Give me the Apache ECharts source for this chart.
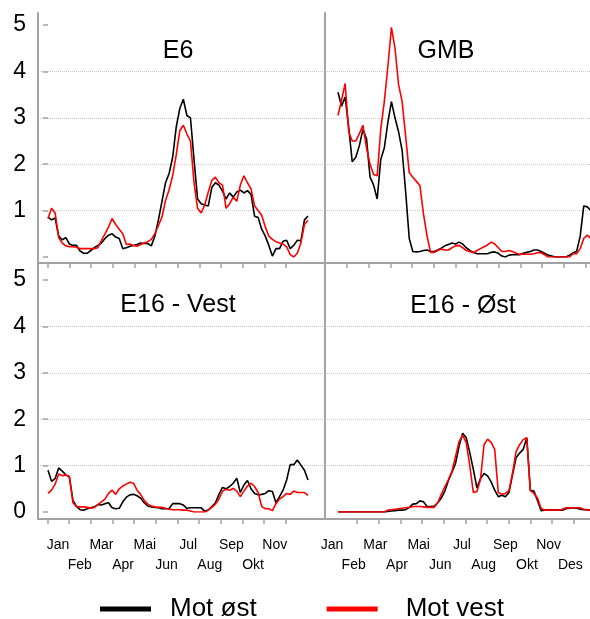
<!DOCTYPE html>
<html>
<head>
<meta charset="utf-8">
<script src="https://cdn.jsdelivr.net/npm/echarts@6/dist/echarts.min.js"></script>
<style>
  html, body { margin: 0; padding: 0; background: #fff; }
  #chart { width: 590px; height: 619px; }
</style>
</head>
<body>
<div id="chart"></div>
<script>
// Month names used on the time axes (Norwegian)
const months = ['Jan', 'Feb', 'Mar', 'Apr', 'Mai', 'Jun', 'Jul', 'Aug', 'Sep', 'Okt', 'Nov', 'Des'];
const panelTitles = ['E6', 'GMB', 'E16 - Vest', 'E16 - Øst'];
const seriesNames = ['Mot øst', 'Mot vest'];
const yTickLabels = [0, 1, 2, 3, 4, 5];

// Values are sampled every 5 days, starting 1 January (day 0) up to day 365
const sampleStepDays = 5;

const e6East = [
  0.86, 0.80, 0.84, 0.45, 0.37, 0.42, 0.28, 0.25, 0.25, 0.13,
  0.08, 0.08, 0.14, 0.20, 0.25, 0.30, 0.40, 0.47, 0.50, 0.43,
  0.40, 0.18, 0.20, 0.23, 0.25, 0.27, 0.30, 0.29, 0.29, 0.24,
  0.45, 0.80, 1.20, 1.60, 1.80, 2.15, 2.80, 3.20, 3.40, 3.05,
  3.00, 2.10, 1.25, 1.15, 1.12, 1.10, 1.50, 1.60, 1.55, 1.42,
  1.25, 1.38, 1.29, 1.40, 1.44, 1.38, 1.43, 1.35, 0.88, 0.85,
  0.60, 0.45, 0.25, 0.02, 0.18, 0.18, 0.34, 0.36, 0.18, 0.25,
  0.36, 0.35, 0.80, 0.88
];
const e6West = [
  0.83, 1.05, 0.95, 0.42, 0.30, 0.24, 0.22, 0.22, 0.21, 0.18,
  0.18, 0.18, 0.18, 0.18, 0.20, 0.36, 0.50, 0.65, 0.83, 0.70,
  0.60, 0.50, 0.27, 0.28, 0.25, 0.23, 0.27, 0.30, 0.33, 0.38,
  0.50, 0.68, 0.86, 1.22, 1.45, 1.75, 2.20, 2.72, 2.84, 2.65,
  2.50, 1.60, 1.05, 0.95, 1.12, 1.40, 1.65, 1.72, 1.60, 1.55,
  1.05, 1.15, 1.29, 1.20, 1.55, 1.75, 1.60, 1.47, 1.10, 1.00,
  0.90, 0.65, 0.45, 0.38, 0.33, 0.30, 0.28, 0.22, 0.05, 0.00,
  0.08, 0.30, 0.70, 0.79
];
const gmbEast = [
  3.55, 3.25, 3.45, 2.80, 2.05, 2.15, 2.40, 2.75, 2.55, 1.72,
  1.55, 1.25, 2.10, 2.35, 2.90, 3.35, 3.00, 2.70, 2.30, 1.40,
  0.40, 0.12, 0.11, 0.12, 0.14, 0.15, 0.12, 0.12, 0.15, 0.19,
  0.24, 0.27, 0.30, 0.28, 0.32, 0.28, 0.20, 0.14, 0.10, 0.07,
  0.07, 0.07, 0.07, 0.10, 0.11, 0.08, 0.02, 0.00, 0.04, 0.05,
  0.05, 0.05, 0.08, 0.10, 0.12, 0.15, 0.15, 0.12, 0.08, 0.04,
  0.02, 0.00, 0.00, 0.00, 0.00, 0.04, 0.09, 0.12, 0.45, 1.10,
  1.08, 1.00, 1.00, 1.00
];
const gmbWest = [
  3.05, 3.38, 3.74, 2.70, 2.50, 2.50, 2.66, 2.84, 2.35, 2.00,
  1.78, 1.75, 2.75, 3.35, 4.10, 4.95, 4.50, 3.72, 3.35, 2.60,
  1.82, 1.72, 1.63, 1.54, 0.93, 0.45, 0.10, 0.10, 0.14, 0.17,
  0.15, 0.15, 0.20, 0.24, 0.25, 0.20, 0.14, 0.12, 0.09, 0.14,
  0.18, 0.22, 0.26, 0.32, 0.28, 0.20, 0.12, 0.12, 0.14, 0.12,
  0.08, 0.06, 0.06, 0.06, 0.06, 0.07, 0.09, 0.09, 0.05, 0.00,
  0.00, 0.00, 0.00, 0.00, 0.00, 0.00, 0.07, 0.07, 0.18, 0.40,
  0.47, 0.40, 0.40, 0.40
];
const e16VestEast = [
  0.90, 0.66, 0.72, 0.95, 0.88, 0.80, 0.75, 0.25, 0.12, 0.05,
  0.04, 0.07, 0.09, 0.11, 0.16, 0.15, 0.18, 0.20, 0.09, 0.07,
  0.08, 0.22, 0.32, 0.37, 0.38, 0.35, 0.30, 0.20, 0.13, 0.11,
  0.10, 0.09, 0.07, 0.07, 0.07, 0.18, 0.18, 0.18, 0.15, 0.08,
  0.09, 0.09, 0.09, 0.09, 0.02, 0.04, 0.12, 0.20, 0.38, 0.53,
  0.50, 0.55, 0.62, 0.73, 0.42, 0.58, 0.68, 0.50, 0.40, 0.37,
  0.38, 0.40, 0.46, 0.44, 0.20, 0.33, 0.47, 0.69, 1.02, 1.02,
  1.12, 1.01, 0.90, 0.69
];
const e16VestWest = [
  0.40, 0.47, 0.60, 0.82, 0.78, 0.80, 0.77, 0.20, 0.12, 0.11,
  0.11, 0.10, 0.08, 0.10, 0.16, 0.22, 0.28, 0.40, 0.47, 0.38,
  0.50, 0.56, 0.60, 0.64, 0.62, 0.47, 0.38, 0.25, 0.17, 0.13,
  0.11, 0.10, 0.10, 0.08, 0.06, 0.05, 0.05, 0.05, 0.04, 0.04,
  0.02, 0.00, 0.00, 0.00, 0.00, 0.04, 0.10, 0.17, 0.28, 0.45,
  0.49, 0.47, 0.51, 0.45, 0.33, 0.45, 0.56, 0.62, 0.55, 0.42,
  0.12, 0.07, 0.07, 0.03, 0.18, 0.28, 0.33, 0.40, 0.38, 0.45,
  0.42, 0.42, 0.42, 0.36
];
const e16OstEast = [
  0.00, 0.00, 0.00, 0.00, 0.00, 0.00, 0.00, 0.00, 0.00, 0.00,
  0.00, 0.00, 0.00, 0.00, 0.01, 0.02, 0.03, 0.04, 0.04, 0.05,
  0.10, 0.17, 0.18, 0.24, 0.22, 0.12, 0.12, 0.13, 0.20, 0.30,
  0.45, 0.68, 0.86, 1.05, 1.42, 1.70, 1.60, 1.28, 0.92, 0.52,
  0.72, 0.83, 0.78, 0.65, 0.47, 0.33, 0.36, 0.33, 0.42, 0.80,
  1.17, 1.27, 1.35, 1.60, 0.47, 0.45, 0.25, 0.03, 0.04, 0.05,
  0.05, 0.05, 0.04, 0.04, 0.07, 0.08, 0.09, 0.08, 0.06, 0.05,
  0.05, 0.04, 0.04, 0.04
];
const e16OstWest = [
  0.00, 0.00, 0.00, 0.00, 0.00, 0.00, 0.00, 0.00, 0.00, 0.00,
  0.00, 0.00, 0.00, 0.00, 0.04, 0.05, 0.06, 0.07, 0.08, 0.09,
  0.10, 0.12, 0.12, 0.12, 0.11, 0.10, 0.10, 0.10, 0.20, 0.38,
  0.54, 0.70, 0.88, 1.20, 1.52, 1.65, 1.50, 1.00, 0.42, 0.44,
  0.70, 1.45, 1.57, 1.50, 1.35, 0.42, 0.38, 0.40, 0.46, 0.84,
  1.30, 1.45, 1.56, 1.60, 0.46, 0.40, 0.30, 0.08, 0.04, 0.04,
  0.04, 0.04, 0.04, 0.06, 0.09, 0.09, 0.09, 0.09, 0.09, 0.06,
  0.04, 0.04, 0.04, 0.04
];

const FONT = "'Liberation Sans', Arial, Helvetica, sans-serif";
const AXIS_GREY = '#a3a3a3';
const GRID_GREY = '#c9c9c9';
const EAST_COLOR = '#000000';
const WEST_COLOR = '#ff0000';

// Geometry of the four small multiples
const PANEL_W = 287;
const UNIT_PX = 46.4;                 // pixels per unit on the value axes
const PX_PER_DAY = 260 / 365;
const panels = [
  { title: panelTitles[0], east: e6East,      west: e6West,      left: 38,  top: 13,  plotH: 244, frameH: 250, start: 48,  yLabels: true,  showZero: false, tx: 178, ty: 51 },
  { title: panelTitles[1], east: gmbEast,     west: gmbWest,     left: 325, top: 13,  plotH: 244, frameH: 250, start: 338, yLabels: false, showZero: false, tx: 446, ty: 51 },
  { title: panelTitles[2], east: e16VestEast, west: e16VestWest, left: 38,  top: 263, plotH: 249, frameH: 256, start: 48,  yLabels: true,  showZero: true,  tx: 178, ty: 305 },
  { title: panelTitles[3], east: e16OstEast,  west: e16OstWest,  left: 325, top: 263, plotH: 249, frameH: 256, start: 338, yLabels: false, showZero: true,  tx: 463, ty: 306 }
];

const grids = [], xAxes = [], yAxes = [], series = [], graphics = [];

// grids keep their given size even where they run past the right edge
function addGrid(g) { grids.push(Object.assign({ outerBoundsMode: 'none', containLabel: false }, g)); return grids.length - 1; }
function hiddenY(gi) { yAxes.push({ gridIndex: gi, type: 'value', show: false }); }

panels.forEach(p => {
  // plotting area: value 0 sits on the bottom edge
  const gi = addGrid({ left: p.left, top: p.top, width: PANEL_W, height: p.plotH });
  const xMin = -(p.start - p.left) / PX_PER_DAY;
  xAxes.push({ gridIndex: gi, type: 'value', min: xMin, max: xMin + PANEL_W / PX_PER_DAY, show: false });
  yAxes.push({
    gridIndex: gi, type: 'value', min: 0, max: p.plotH / UNIT_PX, interval: 1,
    axisLine: { show: false },
    axisTick: { show: p.yLabels, length: 5, lineStyle: { color: AXIS_GREY, width: 1.5 } },
    axisLabel: {
      show: p.yLabels, margin: 12, fontSize: 23, fontFamily: FONT, color: '#000',
      showMaxLabel: false,
      formatter: v => (yTickLabels.indexOf(v) < 0 || (v === 0 && !p.showZero)) ? '' : String(v)
    },
    splitLine: {
      show: true, showMinLine: false, showMaxLine: false,
      lineStyle: { type: 'dotted', width: 1, color: [GRID_GREY, GRID_GREY, GRID_GREY, GRID_GREY, 'rgba(0,0,0,0)', 'rgba(0,0,0,0)'] }
    }
  });
  const days = p.east.map((_, i) => i * sampleStepDays);
  [[p.east, seriesNames[0], EAST_COLOR], [p.west, seriesNames[1], WEST_COLOR]].forEach(([vals, name, color]) => {
    series.push({
      type: 'line', name, xAxisIndex: xAxes.length - 1, yAxisIndex: yAxes.length - 1,
      data: vals.map((v, i) => [days[i], v]),
      showSymbol: false, symbol: 'none', color, clip: true,
      lineStyle: { width: 1.6, color }
    });
  });

  // frame: the axis lines, slightly below the zero line
  const fi = addGrid({ left: p.left, top: p.top, width: PANEL_W, height: p.frameH });
  xAxes.push({ gridIndex: fi, type: 'value', min: 0, max: 1, axisLine: { show: true, lineStyle: { color: AXIS_GREY, width: 2 } }, axisTick: { show: false }, axisLabel: { show: false }, splitLine: { show: false } });
  yAxes.push({ gridIndex: fi, type: 'value', min: 0, max: 1, axisLine: { show: true, lineStyle: { color: AXIS_GREY, width: 2 } }, axisTick: { show: false }, axisLabel: { show: false }, splitLine: { show: false } });

  graphics.push({
    type: 'text', x: p.tx, y: p.ty, silent: true,
    style: { text: p.title, font: '25px ' + FONT, fill: '#000', textAlign: 'center', textVerticalAlign: 'middle' }
  });
});

// Month tick marks and month labels on their own category axes
function monthAxis(left, top, height, opts) {
  const gi = addGrid({ left, top, width: 11 * 260 / 12, height });
  xAxes.push(Object.assign({
    gridIndex: gi, type: 'category', data: months, boundaryGap: false,
    axisLine: { show: false }, splitLine: { show: false },
    axisTick: { show: false }, axisLabel: { show: false }
  }, opts));
  hiddenY(gi);
}
const tickStyle = { show: true, length: 5, lineStyle: { color: AXIS_GREY, width: 1.5 } };
const labelStyle = hideDes => ({
  show: true, interval: 0, margin: 16, fontSize: 14, lineHeight: 20, fontFamily: FONT, color: '#000',
  formatter: (v, i) => (hideDes && i === 11) ? '' : (i % 2 ? '\n' + v : v)
});

monthAxis(47.9, 13, 250, { axisTick: Object.assign({ interval: 0 }, tickStyle) });
monthAxis(347.0, 13, 250, { axisTick: Object.assign({ interval: 0 }, tickStyle) });
monthAxis(47.3, 263, 256, { axisTick: Object.assign({ interval: 0 }, tickStyle) });
monthAxis(58.1, 263, 256, { axisLabel: labelStyle(true) });
monthAxis(335.4, 263, 256, { axisTick: Object.assign({ interval: (i) => i > 0 }, tickStyle) });
monthAxis(332.0, 263, 256, { axisLabel: labelStyle(false) });

const chart = echarts.init(document.getElementById('chart'), null, { renderer: 'canvas' });
chart.setOption({
  animation: false,
  backgroundColor: '#ffffff',
  grid: grids,
  xAxis: xAxes,
  yAxis: yAxes,
  series,
  graphic: graphics,
  legend: {
    data: [
      { name: seriesNames[0], textStyle: { padding: [0, 0, 0, 14] } },
      { name: seriesNames[1], textStyle: { padding: [0, 0, 0, 23] } }
    ],
    left: 95, top: 591,
    icon: 'rect', itemWidth: 51, itemHeight: 5, itemGap: 70,
    textStyle: { fontSize: 26, fontFamily: FONT, color: '#000' }
  }
});
</script>
</body>
</html>
